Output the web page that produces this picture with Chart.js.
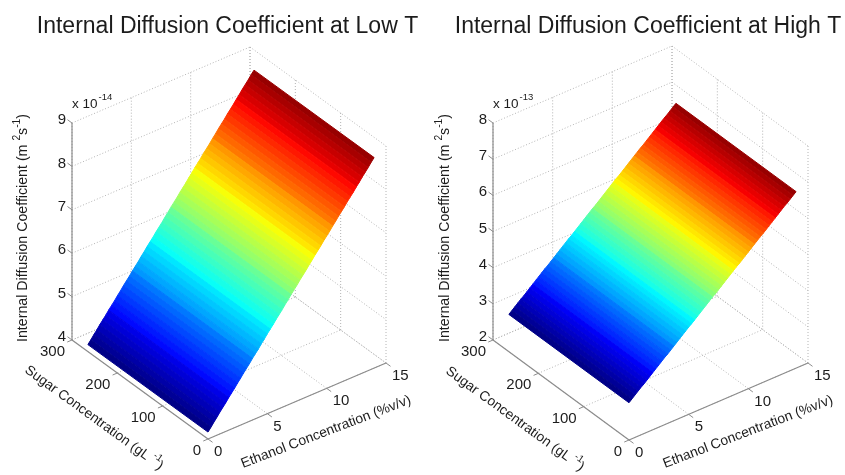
<!DOCTYPE html>
<html>
<head>
<meta charset="utf-8">
<title>Internal Diffusion Coefficient</title>
<script src="https://cdn.jsdelivr.net/npm/chart.js@4"></script>
<style>
    html, body { margin: 0; background: #fff; overflow: hidden; height: 475px; }
    canvas { position: absolute; top: 0; filter: blur(0.4px); }
    #lowChart { left: 0; }
    #highChart { left: 431px; }
</style>
</head>
<body>
<canvas id="lowChart" width="455" height="475"></canvas>
<canvas id="highChart" width="434" height="475"></canvas>
<script>
// ================= DATA =================

const ethanolGrid = [
    0, 0.25, 0.5, 0.75, 1, 1.25, 1.5, 1.75, 2, 2.25, 2.5, 2.75, 3, 3.25, 3.5, 3.75, 4, 4.25, 4.5,
    4.75, 5, 5.25, 5.5, 5.75, 6, 6.25, 6.5, 6.75, 7, 7.25, 7.5, 7.75, 8, 8.25, 8.5, 8.75, 9, 9.25,
    9.5, 9.75, 10, 10.25, 10.5, 10.75, 11, 11.25, 11.5, 11.75, 12, 12.25, 12.5, 12.75, 13, 13.25,
    13.5, 13.75, 14
];
const sugarRange = [0, 265];

// x 10^-14
const lowDiffusion = [
    4.16, 4.24, 4.33, 4.41, 4.50, 4.58, 4.66, 4.75, 4.83, 4.91, 5.00, 5.08, 5.17, 5.25, 5.33,
    5.42, 5.50, 5.58, 5.67, 5.75, 5.84, 5.92, 6.00, 6.09, 6.17, 6.25, 6.34, 6.42, 6.51, 6.59,
    6.67, 6.76, 6.84, 6.92, 7.01, 7.09, 7.18, 7.26, 7.34, 7.43, 7.51, 7.59, 7.68, 7.76, 7.85,
    7.93, 8.01, 8.10, 8.18, 8.26, 8.35, 8.43, 8.52, 8.60, 8.68, 8.77, 8.85
];

// x 10^-13
const highDiffusion = [
    3.03, 3.10, 3.17, 3.24, 3.31, 3.37, 3.44, 3.51, 3.58, 3.65, 3.72, 3.79, 3.86, 3.92, 3.99,
    4.06, 4.13, 4.20, 4.27, 4.34, 4.41, 4.47, 4.54, 4.61, 4.68, 4.75, 4.82, 4.89, 4.96, 5.02,
    5.09, 5.16, 5.23, 5.30, 5.37, 5.44, 5.51, 5.57, 5.64, 5.71, 5.78, 5.85, 5.92, 5.99, 6.06,
    6.12, 6.19, 6.26, 6.33, 6.40, 6.47, 6.54, 6.61, 6.67, 6.74, 6.81, 6.88
];

const ethanolTicks = [0, 5, 10, 15];
const sugarTicks = [0, 100, 200, 300];
const lowTicks = [4, 5, 6, 7, 8, 9];
const highTicks = [2, 3, 4, 5, 6, 7, 8];

// ================= PROJECTION (orthographic view of each 3D box) =================

const lowView =
{
    left: 0, width: 455,
    origin: [208, 439], ethanolVec: [178, -76], sugarVec: [-136, -99], zHeight: 217,
    title: "Internal Diffusion Coefficient at Low T",
    exponent: "-14",
    zTitleX: 23, sugarTitle: [94, 418], ethanolTitle: [326, 432]
};

const highView =
{
    left: 431, width: 434,
    origin: [629, 440], ethanolVec: [179, -77], sugarVec: [-136, -100], zHeight: 217,
    title: "Internal Diffusion Coefficient at High T",
    exponent: "-13",
    zTitleX: 445, sugarTitle: [515, 419], ethanolTitle: [748, 432]
};

const TITLE_HEIGHT = 42;
const TEXT_COLOR = "#1c1c1c";
const FONT = "'Liberation Sans'";

function project(view, zTicks, ethanol, sugar, z)
{
    const zMin = zTicks[0];
    const zMax = zTicks[zTicks.length - 1];

    return {
        x: view.origin[0] + ethanol / 15 * view.ethanolVec[0] + sugar / 300 * view.sugarVec[0],
        y: view.origin[1] + ethanol / 15 * view.ethanolVec[1] + sugar / 300 * view.sugarVec[1]
            - (z - zMin) / (zMax - zMin) * view.zHeight
    };
}

// ================= JET COLORS =================

function jet(t)
{
    const level = Math.min(63, Math.floor(t * 64));
    const v = (level + 0.5) / 64;
    const channel = c => Math.round(255 * Math.max(0, Math.min(1, 1.5 - Math.abs(4 * v - c))));

    return `rgb(${channel(3)},${channel(2)},${channel(1)})`;
}

// ================= TEXT =================

function richText(ctx, parts, cx, cy, angle, size)
{
    ctx.save();
    ctx.translate(cx, cy);
    ctx.rotate(angle);
    ctx.textAlign = "left";
    ctx.textBaseline = "middle";
    ctx.fillStyle = TEXT_COLOR;

    let total = 0;

    parts.forEach(p => {
        ctx.font = `${p.sup ? size * 0.72 : size}px ${FONT}`;
        total += ctx.measureText(p.text).width;
    });

    let x = -total / 2;

    parts.forEach(p => {
        ctx.font = `${p.sup ? size * 0.72 : size}px ${FONT}`;
        ctx.fillText(p.text, x, p.sup ? -size * 0.42 : 0);
        x += ctx.measureText(p.text).width;
    });

    ctx.restore();
}

function labelsPlugin(view, zTicks)
{
    return {
        id: "labels3d",
        afterDraw(chart)
        {
            const ctx = chart.ctx;
            const sx = chart.scales.x;
            const sy = chart.scales.y;
            const at = (e, s, z) => {
                const p = project(view, zTicks, e, s, z);
                return [sx.getPixelForValue(p.x), sy.getPixelForValue(p.y)];
            };
            const zMin = zTicks[0];

            ctx.save();
            ctx.font = `15px ${FONT}`;
            ctx.fillStyle = TEXT_COLOR;
            ctx.textBaseline = "middle";

            ctx.textAlign = "right";
            zTicks.forEach(z => {
                const p = at(0, 300, z);
                ctx.fillText(String(z), p[0] - 6, p[1] - 3);
            });
            sugarTicks.forEach(s => {
                const p = at(0, s, zMin);
                ctx.fillText(String(s), p[0] - 7, p[1] + 12);
            });

            ctx.textAlign = "left";
            ethanolTicks.forEach(e => {
                const p = at(e, 0, zMin);
                ctx.fillText(String(e), p[0] + 6, p[1] + 13);
            });
            ctx.restore();

            // multiplier above the vertical axis
            const top = at(0, 300, zTicks[zTicks.length - 1]);
            ctx.save();
            ctx.fillStyle = TEXT_COLOR;
            ctx.textBaseline = "middle";
            ctx.textAlign = "left";
            ctx.font = `13.5px ${FONT}`;
            ctx.fillText("x 10", top[0], top[1] - 19);
            const w = ctx.measureText("x 10").width;
            ctx.font = `9.5px ${FONT}`;
            ctx.fillText(view.exponent, top[0] + w + 1, top[1] - 26);
            ctx.restore();

            // axis titles
            const off = view.left;

            richText(ctx, [
                { text: "Internal Diffusion Coefficient (m " },
                { text: "2", sup: true },
                { text: "s" },
                { text: "-1", sup: true },
                { text: ")" }
            ], view.zTitleX - off, 228, -Math.PI / 2, 14.2);

            richText(ctx, [
                { text: "Sugar Concentration (gL " },
                { text: "-1", sup: true },
                { text: ")" }
            ], view.sugarTitle[0] - off, view.sugarTitle[1], 36 * Math.PI / 180, 13.8);

            richText(ctx, [
                { text: "Ethanol Concentration (%v/v)" }
            ], view.ethanolTitle[0] - off, view.ethanolTitle[1], -21 * Math.PI / 180, 13.9);
        }
    };
}

// ================= CHARTS =================

function lineSet(points, color, width, dash)
{
    return {
        data: points,
        showLine: true,
        pointRadius: 0,
        borderColor: color,
        borderWidth: width,
        borderDash: dash,
        fill: false,
        clip: false
    };
}

function buildChart(canvasId, view, diffusion, zTicks)
{
    const P = (e, s, z) => project(view, zTicks, e, s, z);
    const zMin = zTicks[0];
    const zMax = zTicks[zTicks.length - 1];
    const dMin = Math.min(...diffusion);
    const dMax = Math.max(...diffusion);
    const datasets = [];

    // surface: one filled strip per ethanol step
    for(let i = 0; i < ethanolGrid.length - 1; i++)
    {
        const e0 = ethanolGrid[i];
        const e1 = ethanolGrid[i + 1];
        const d0 = diffusion[i];
        const d1 = diffusion[i + 1];
        const color = jet((d0 - dMin) / (dMax - dMin));

        datasets.push({
            data: [
                P(e0, sugarRange[0], d0),
                P(e1, sugarRange[0], d1),
                P(e1, sugarRange[1], d1),
                P(e0, sugarRange[1], d0),
                P(e0, sugarRange[0], d0)
            ],
            showLine: true,
            pointRadius: 0,
            borderColor: color,
            borderWidth: 1,
            backgroundColor: color,
            fill: "shape",
            clip: false
        });
    }

    // axis lines and tick marks
    const axisColor = "#8c8c8c";

    datasets.push(lineSet([P(0, 300, zMin), P(0, 300, zMax)], axisColor, 1.2));
    datasets.push(lineSet([P(0, 300, zMin), P(0, 0, zMin)], axisColor, 1.2));
    datasets.push(lineSet([P(0, 0, zMin), P(15, 0, zMin)], axisColor, 1.2));

    zTicks.forEach(z => datasets.push(lineSet([P(0, 300, z), P(0, 310, z)], axisColor, 1)));
    sugarTicks.forEach(s => datasets.push(lineSet([P(0, s, zMin), P(-0.4, s, zMin)], axisColor, 1)));
    ethanolTicks.forEach(e => datasets.push(lineSet([P(e, 0, zMin), P(e, -10, zMin)], axisColor, 1)));

    // dotted grid on the floor and the two back walls
    const gridColor = "#b4b4b4";
    const dots = [1, 2];

    ethanolTicks.forEach(e => {
        datasets.push(lineSet([P(e, 0, zMin), P(e, 300, zMin)], gridColor, 1, dots));
        datasets.push(lineSet([P(e, 300, zMin), P(e, 300, zMax)], gridColor, 1, dots));
    });

    sugarTicks.forEach(s => {
        datasets.push(lineSet([P(0, s, zMin), P(15, s, zMin)], gridColor, 1, dots));
        datasets.push(lineSet([P(15, s, zMin), P(15, s, zMax)], gridColor, 1, dots));
    });

    zTicks.forEach(z => {
        datasets.push(lineSet([P(0, 300, z), P(15, 300, z)], gridColor, 1, dots));
        datasets.push(lineSet([P(15, 300, z), P(15, 0, z)], gridColor, 1, dots));
    });

    return new Chart(document.getElementById(canvasId), {
        type: "scatter",
        data: { datasets: datasets },
        options:
        {
            responsive: false,
            animation: false,
            layout: { padding: 0 },
            plugins:
            {
                legend: { display: false },
                tooltip: { enabled: false },
                title:
                {
                    display: true,
                    text: view.title,
                    color: TEXT_COLOR,
                    font: { family: "Liberation Sans", size: 23, weight: "normal", lineHeight: 1.2 },
                    padding: { top: 13, bottom: 1.4 }
                }
            },
            scales:
            {
                x: { display: false, min: view.left, max: view.left + view.width },
                y: { display: false, min: TITLE_HEIGHT, max: 475, reverse: true }
            }
        },
        plugins: [labelsPlugin(view, zTicks)]
    });
}

buildChart("lowChart", lowView, lowDiffusion, lowTicks);
buildChart("highChart", highView, highDiffusion, highTicks);
</script>
</body>
</html>
